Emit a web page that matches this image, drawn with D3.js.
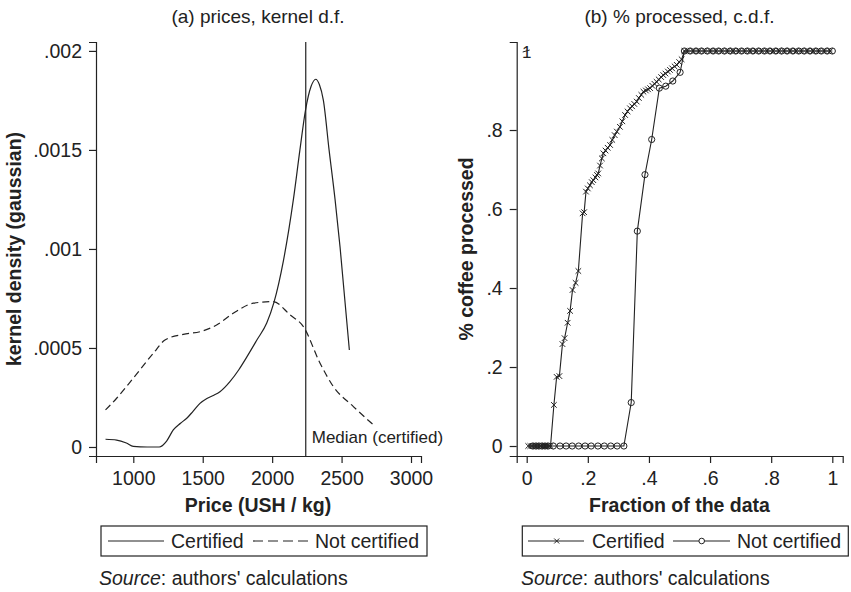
<!DOCTYPE html>
<html>
<head>
<meta charset="utf-8">
<script src="https://cdn.jsdelivr.net/npm/d3@7"></script>
<style>
  body { margin: 0; background: #fff; }
  svg { font-family: "Liberation Sans", Arial, sans-serif; }
  .axis text { font-size: 19.5px; fill: #222; }
  .axis path, .axis line { stroke: #222; stroke-width: 1.2; }
</style>
</head>
<body>
<div id="chart"></div>
<script>
// (a) kernel densities of prices
const certPrice = [800, 880, 950, 1000, 1100, 1187, 1240, 1288, 1340, 1385, 1430, 1480, 1530, 1576, 1624, 1696, 1760, 1819, 1890, 1961, 2013, 2081, 2153, 2200, 2240, 2280, 2314, 2340, 2369, 2410, 2453, 2489, 2556];
const certDensity = [0.000039, 0.000035, 0.00002, 0.000003, 0, 0, 0.00003, 0.000086, 0.00012, 0.000145, 0.00018, 0.00022, 0.000245, 0.00026, 0.000279, 0.00033, 0.00039, 0.000456, 0.00054, 0.000626, 0.00073, 0.00094, 0.00125, 0.0015, 0.0017, 0.00182, 0.001857, 0.00183, 0.00175, 0.0015, 0.00125, 0.00101, 0.00049];
const notCertPrice = [800, 880, 1000, 1144, 1228, 1360, 1480, 1600, 1720, 1864, 2008, 2129, 2225, 2345, 2441, 2585, 2740];
const notCertDensity = [0.000187, 0.000246, 0.000348, 0.000473, 0.00054, 0.000569, 0.000582, 0.000616, 0.000675, 0.000726, 0.000734, 0.000667, 0.000608, 0.000423, 0.000305, 0.000204, 0.000105];
const medianCertified = 2242;
const priceTicks = [1000, 1500, 2000, 2500, 3000];
const densityTicks = [0, 0.0005, 0.001, 0.0015, 0.002];
const densityTickLabels = ['0', '.0005', '.001', '.0015', '.002'];

// (b) c.d.f. of % processed
const certFrac = [0.005, 0.012, 0.018, 0.025, 0.03, 0.036, 0.042, 0.048, 0.054, 0.06, 0.066, 0.072, 0.078,
  0.089, 0.098, 0.107, 0.117, 0.124, 0.134, 0.142, 0.150, 0.160, 0.169, 0.183, 0.188, 0.194,
  0.200, 0.207, 0.213, 0.218, 0.225, 0.230, 0.234, 0.240, 0.246, 0.251, 0.258, 0.265, 0.273, 0.280, 0.288, 0.295,
  0.305, 0.313, 0.322, 0.330, 0.338, 0.345, 0.352, 0.360, 0.367, 0.375, 0.382, 0.390, 0.397, 0.404, 0.411, 0.418,
  0.425, 0.432, 0.440, 0.447, 0.454, 0.462, 0.469, 0.476, 0.484, 0.491, 0.499, 0.507, 0.516,
  0.526, 0.545, 0.563, 0.582, 0.601, 0.619, 0.638, 0.657, 0.675, 0.694, 0.713, 0.731, 0.750, 0.769, 0.787, 0.806,
  0.825, 0.843, 0.862, 0.881, 0.899, 0.918, 0.937, 0.955, 0.974, 0.993];
const certProcessed = [0, 0, 0, 0, 0, 0, 0, 0, 0, 0, 0, 0, 0,
  0.104, 0.175, 0.177, 0.258, 0.273, 0.312, 0.342, 0.395, 0.413, 0.443, 0.589, 0.592, 0.644,
  0.652, 0.66, 0.668, 0.673, 0.68, 0.686, 0.69, 0.71, 0.728, 0.741, 0.748, 0.755, 0.762, 0.775, 0.787, 0.796,
  0.808, 0.822, 0.838, 0.847, 0.855, 0.86, 0.866, 0.872, 0.881, 0.889, 0.897, 0.9, 0.903, 0.906, 0.912, 0.917,
  0.922, 0.928, 0.934, 0.939, 0.943, 0.948, 0.952, 0.956, 0.961, 0.965, 0.972, 0.979, 1,
  1, 1, 1, 1, 1, 1, 1, 1, 1, 1, 1, 1, 1, 1, 1, 1,
  1, 1, 1, 1, 1, 1, 1, 1, 1, 1];
const notCertFrac = [0.02, 0.03, 0.04, 0.05, 0.06, 0.07, 0.087, 0.109, 0.129, 0.149, 0.17, 0.191, 0.211, 0.233, 0.254, 0.275, 0.296, 0.318,
  0.342, 0.362, 0.387, 0.409, 0.434, 0.455, 0.478, 0.502, 0.516,
  0.535, 0.554, 0.572, 0.591, 0.61, 0.628, 0.647, 0.666, 0.684, 0.703, 0.722, 0.74, 0.759, 0.778, 0.796,
  0.815, 0.834, 0.852, 0.871, 0.89, 0.908, 0.927, 0.946, 0.964, 0.983, 1.0];
const notCertProcessed = [0, 0, 0, 0, 0, 0, 0, 0, 0, 0, 0, 0, 0, 0, 0, 0, 0, 0,
  0.11, 0.544, 0.687, 0.776, 0.906, 0.911, 0.924, 0.946, 1,
  1, 1, 1, 1, 1, 1, 1, 1, 1, 1, 1, 1, 1, 1, 1,
  1, 1, 1, 1, 1, 1, 1, 1, 1, 1, 1];
const fracTicks = [0, 0.2, 0.4, 0.6, 0.8, 1];
const fracTickLabels = ['0', '.2', '.4', '.6', '.8', '1'];
const procTicks = [0, 0.2, 0.4, 0.6, 0.8];
const procTickLabels = ['0', '.2', '.4', '.6', '.8'];

const ink = '#222';
const W = 851, H = 592;

const svg = d3.select('#chart').append('svg')
  .attr('width', W).attr('height', H)
  .attr('viewBox', [0, 0, W, H]);

// ---------- panel (a) ----------
const xa = d3.scaleLinear().domain([731.4, 3072]).range([96, 421]);
const ya = d3.scaleLinear().domain([-0.0000455, 0.002045]).range([456, 42]);

svg.append('g')
  .attr('class', 'axis')
  .attr('transform', 'translate(0,456)')
  .call(d3.axisBottom(xa).tickValues(priceTicks).tickSizeOuter(0).tickSize(7).tickPadding(8).tickFormat(d3.format('d')));

svg.append('g')
  .attr('class', 'axis')
  .attr('transform', 'translate(96,0)')
  .call(d3.axisLeft(ya).tickValues(densityTicks).tickSizeOuter(0).tickSize(7).tickPadding(7)
    .tickFormat((d, i) => densityTickLabels[i]));

const lineA = d3.line().curve(d3.curveMonotoneX)
  .x(d => xa(d[0])).y(d => ya(d[1]));

svg.append('path')
  .datum(d3.zip(certPrice, certDensity))
  .attr('fill', 'none').attr('stroke', ink).attr('stroke-width', 1.2)
  .attr('d', lineA);

svg.append('path')
  .datum(d3.zip(notCertPrice, notCertDensity))
  .attr('fill', 'none').attr('stroke', ink).attr('stroke-width', 1.2)
  .attr('stroke-dasharray', '7,4')
  .attr('d', lineA);

svg.append('line')
  .attr('x1', xa(medianCertified)).attr('x2', xa(medianCertified))
  .attr('y1', 42).attr('y2', 456)
  .attr('stroke', ink).attr('stroke-width', 1.2);

svg.append('text')
  .attr('x', xa(medianCertified) + 6).attr('y', 443)
  .attr('font-size', 17).attr('fill', ink)
  .text('Median (certified)');

svg.append('text')
  .attr('x', 258).attr('y', 23).attr('text-anchor', 'middle')
  .attr('font-size', 19).attr('fill', ink)
  .text('(a) prices, kernel d.f.');

svg.append('text')
  .attr('x', 258).attr('y', 512).attr('text-anchor', 'middle')
  .attr('font-size', 19.5).attr('font-weight', 'bold').attr('fill', ink)
  .text('Price (USH / kg)');

svg.append('text')
  .attr('transform', 'translate(21,249) rotate(-90)')
  .attr('text-anchor', 'middle')
  .attr('font-size', 19.5).attr('font-weight', 'bold').attr('fill', ink)
  .text('kernel density (gaussian)');

// legend (a)
const legA = svg.append('g');
legA.append('rect')
  .attr('x', 101).attr('y', 526).attr('width', 326).attr('height', 30)
  .attr('fill', 'none').attr('stroke', ink).attr('stroke-width', 1.2);
legA.append('line').attr('x1', 108).attr('x2', 164).attr('y1', 541).attr('y2', 541)
  .attr('stroke', ink).attr('stroke-width', 1.2);
legA.append('text').attr('x', 171).attr('y', 547.5).attr('font-size', 19.5).attr('fill', ink).text('Certified');
legA.append('line').attr('x1', 253).attr('x2', 310).attr('y1', 541).attr('y2', 541)
  .attr('stroke', ink).attr('stroke-width', 1.2).attr('stroke-dasharray', '10,5');
legA.append('text').attr('x', 315).attr('y', 547.5).attr('font-size', 19.5).attr('fill', ink).text('Not certified');

const srcA = svg.append('text').attr('x', 99).attr('y', 585).attr('font-size', 19.5).attr('fill', ink);
srcA.append('tspan').attr('font-style', 'italic').text('Source');
srcA.append('tspan').text(": authors' calculations");

// ---------- panel (b) ----------
const xb = d3.scaleLinear().domain([-0.0327, 1.0340]).range([516.7, 842.7]);
const yb = d3.scaleLinear().domain([-0.0253, 1.0228]).range([456, 42]);

svg.append('g')
  .attr('class', 'axis')
  .attr('transform', 'translate(0,456)')
  .call(d3.axisBottom(xb).tickValues(fracTicks).tickSizeOuter(0).tickSize(7).tickPadding(8)
    .tickFormat((d, i) => fracTickLabels[i]));

svg.append('g')
  .attr('class', 'axis')
  .attr('transform', 'translate(516.7,0)')
  .call(d3.axisLeft(yb).tickValues(procTicks).tickSizeOuter(0).tickSize(7).tickPadding(7)
    .tickFormat((d, i) => procTickLabels[i]));

// odd "1" label drawn inside the plot in the original
svg.append('text')
  .attr('x', xb(0)).attr('y', yb(1) + 6.5).attr('text-anchor', 'middle')
  .attr('font-size', 17).attr('fill', ink).text('1');
svg.append('line')
  .attr('x1', xb(0) - 4).attr('x2', xb(0) + 3).attr('y1', yb(1) + 1).attr('y2', yb(1) - 1)
  .attr('stroke', ink).attr('stroke-width', 1);

const lineB = d3.line().x(d => xb(d[0])).y(d => yb(d[1]));

const notCertData = d3.zip(notCertFrac, notCertProcessed);
const certData = d3.zip(certFrac, certProcessed);

svg.append('path')
  .datum(notCertData)
  .attr('fill', 'none').attr('stroke', ink).attr('stroke-width', 1.1)
  .attr('d', lineB);

svg.append('g')
  .selectAll('circle')
  .data(notCertData)
  .join('circle')
  .attr('cx', d => xb(d[0])).attr('cy', d => yb(d[1])).attr('r', 3.1)
  .attr('fill', 'none').attr('stroke', ink).attr('stroke-width', 1);

svg.append('path')
  .datum(certData)
  .attr('fill', 'none').attr('stroke', ink).attr('stroke-width', 1.1)
  .attr('d', lineB);

const cross = 2.8;
svg.append('g')
  .selectAll('path')
  .data(certData)
  .join('path')
  .attr('d', d => {
    const x = xb(d[0]), y = yb(d[1]);
    return `M${x - cross},${y - cross}L${x + cross},${y + cross}M${x - cross},${y + cross}L${x + cross},${y - cross}`;
  })
  .attr('stroke', ink).attr('stroke-width', 1);

svg.append('text')
  .attr('x', 679.5).attr('y', 23).attr('text-anchor', 'middle')
  .attr('font-size', 19).attr('fill', ink)
  .text('(b) % processed, c.d.f.');

svg.append('text')
  .attr('x', 679.5).attr('y', 512).attr('text-anchor', 'middle')
  .attr('font-size', 19.5).attr('font-weight', 'bold').attr('fill', ink)
  .text('Fraction of the data');

svg.append('text')
  .attr('transform', 'translate(473,249) rotate(-90)')
  .attr('text-anchor', 'middle')
  .attr('font-size', 19.5).attr('font-weight', 'bold').attr('fill', ink)
  .text('% coffee processed');

// legend (b)
const legB = svg.append('g');
legB.append('rect')
  .attr('x', 522.3).attr('y', 526).attr('width', 326).attr('height', 30)
  .attr('fill', 'none').attr('stroke', ink).attr('stroke-width', 1.2);
legB.append('line').attr('x1', 528).attr('x2', 584).attr('y1', 541).attr('y2', 541)
  .attr('stroke', ink).attr('stroke-width', 1.1);
legB.append('path')
  .attr('d', `M${556.7 - 2.5},${541 - 2.5}L${556.7 + 2.5},${541 + 2.5}M${556.7 - 2.5},${541 + 2.5}L${556.7 + 2.5},${541 - 2.5}`)
  .attr('stroke', ink).attr('stroke-width', 1);
legB.append('text').attr('x', 592).attr('y', 547.5).attr('font-size', 19.5).attr('fill', ink).text('Certified');
legB.append('line').attr('x1', 673).attr('x2', 730).attr('y1', 541).attr('y2', 541)
  .attr('stroke', ink).attr('stroke-width', 1.1);
legB.append('circle').attr('cx', 701.7).attr('cy', 541).attr('r', 2.8)
  .attr('fill', '#fff').attr('stroke', ink).attr('stroke-width', 1);
legB.append('text').attr('x', 737).attr('y', 547.5).attr('font-size', 19.5).attr('fill', ink).text('Not certified');

const srcB = svg.append('text').attr('x', 521).attr('y', 585).attr('font-size', 19.5).attr('fill', ink);
srcB.append('tspan').attr('font-style', 'italic').text('Source');
srcB.append('tspan').text(": authors' calculations");
</script>
</body>
</html>
